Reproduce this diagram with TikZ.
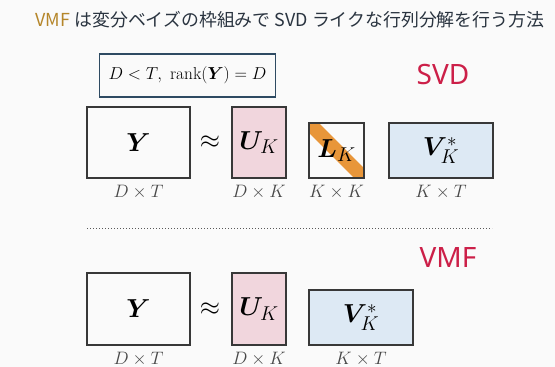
\RequirePackage{fix-cm}
\documentclass[tikz,border=0pt]{standalone}
\usepackage{amsmath,amssymb,bm}
\usepackage{fontspec}
\newfontfamily\cjk{Noto Sans CJK JP}
\newfontfamily\sansf{Noto Sans}
\newcommand{\subK}{\hbox{\fontsize{20}{20}\selectfont$K$}}
\newcommand{\supstar}{\hbox{\fontsize{19}{19}\selectfont$*$}}
\definecolor{bgc}{HTML}{FAFAFA}
\definecolor{edgec}{HTML}{383838}
\definecolor{condc}{HTML}{2E4A62}
\definecolor{pinkc}{HTML}{F1D6DD}
\definecolor{bluec}{HTML}{DDE9F4}
\definecolor{orc}{HTML}{E8963A}
\definecolor{redc}{HTML}{CC1F48}
\definecolor{goldc}{HTML}{B5862A}
\definecolor{titc}{HTML}{2A3440}
\begin{document}
\begin{tikzpicture}[x=1pt,y=-1pt,
  mat/.style={draw=edgec,line width=1.2pt,inner sep=0pt},
  lbl/.style={font=\fontsize{18}{18}\selectfont,text=black!72},
  big/.style={font=\fontsize{26}{26}\selectfont},
  tag/.style={font=\fontsize{28}{28}\selectfont\sansf,text=redc}]
\useasboundingbox[fill=bgc] (0,0) rectangle (555,367);
\node[font=\fontsize{17.9}{18}\selectfont\cjk,text=titc] (title) at (290,20) {\textcolor{goldc}{VMF} は変分ベイズの枠組みで SVD ライクな行列分解を行う方法};
\node[draw=condc,line width=1.1pt,minimum width=176pt,minimum height=43pt,inner sep=0pt,font=\fontsize{17.3}{17.3}\selectfont] (cond) at (187.5,75.5) {$D<T,\ \mathrm{rank}(\bm{Y})=D$};
\node[tag] (svd) at (443,75) {SVD};
% top row
\node[mat,minimum width=103pt,minimum height=71pt,big] (y1) at (138.5,142.5) {$\bm{Y}$};
\node[big] (ap1) at (210,142.5) {$\approx$};
\node[mat,fill=pinkc,minimum width=54pt,minimum height=71pt,big] (u1) at (259,142.5) {$\bm{U}_{\subK}$};
\node[mat,minimum width=55pt,minimum height=55pt,
  path picture={\draw[orc,line width=14pt] (path picture bounding box.north west) -- (path picture bounding box.south east);},big] (l1) at (336.5,150.5) {$\bm{L}_{\subK}$};
\node[mat,fill=bluec,minimum width=104pt,minimum height=55pt,big] (v1) at (441,150.5) {$\bm{V}_{\subK}^{\supstar}$};
\node[lbl] (ly1) at (y1.south) [yshift=-13pt] {$D\times T$};
\node[lbl] (lu1) at (u1.south) [yshift=-13pt] {$D\times K$};
\node[lbl] (ll1) at (l1.south) [yshift=-13pt] {$K\times K$};
\node[lbl] (lv1) at (v1.south) [yshift=-13pt] {$K\times T$};
% separator
\coordinate (s1) at (87,228);
\coordinate (s2) at (492,228);
\draw[black!65,line width=1pt,dotted] (s1) -- (s2);
\node[tag] (vmf) at (448,258) {VMF};
% bottom row
\node[mat,minimum width=103pt,minimum height=72pt,big] (y2) at (138.5,309) {$\bm{Y}$};
\node[big] (ap2) at (210,309) {$\approx$};
\node[mat,fill=pinkc,minimum width=54pt,minimum height=72pt,big] (u2) at (259,309) {$\bm{U}_{\subK}$};
\node[mat,fill=bluec,minimum width=104pt,minimum height=55pt,big] (v2) at (361,317.5) {$\bm{V}_{\subK}^{\supstar}$};
\node[lbl] (ly2) at (y2.south) [yshift=-13pt] {$D\times T$};
\node[lbl] (lu2) at (u2.south) [yshift=-13pt] {$D\times K$};
\node[lbl] (lv2) at (v2.south) [yshift=-13pt] {$K\times T$};
\end{tikzpicture}
\end{document}
